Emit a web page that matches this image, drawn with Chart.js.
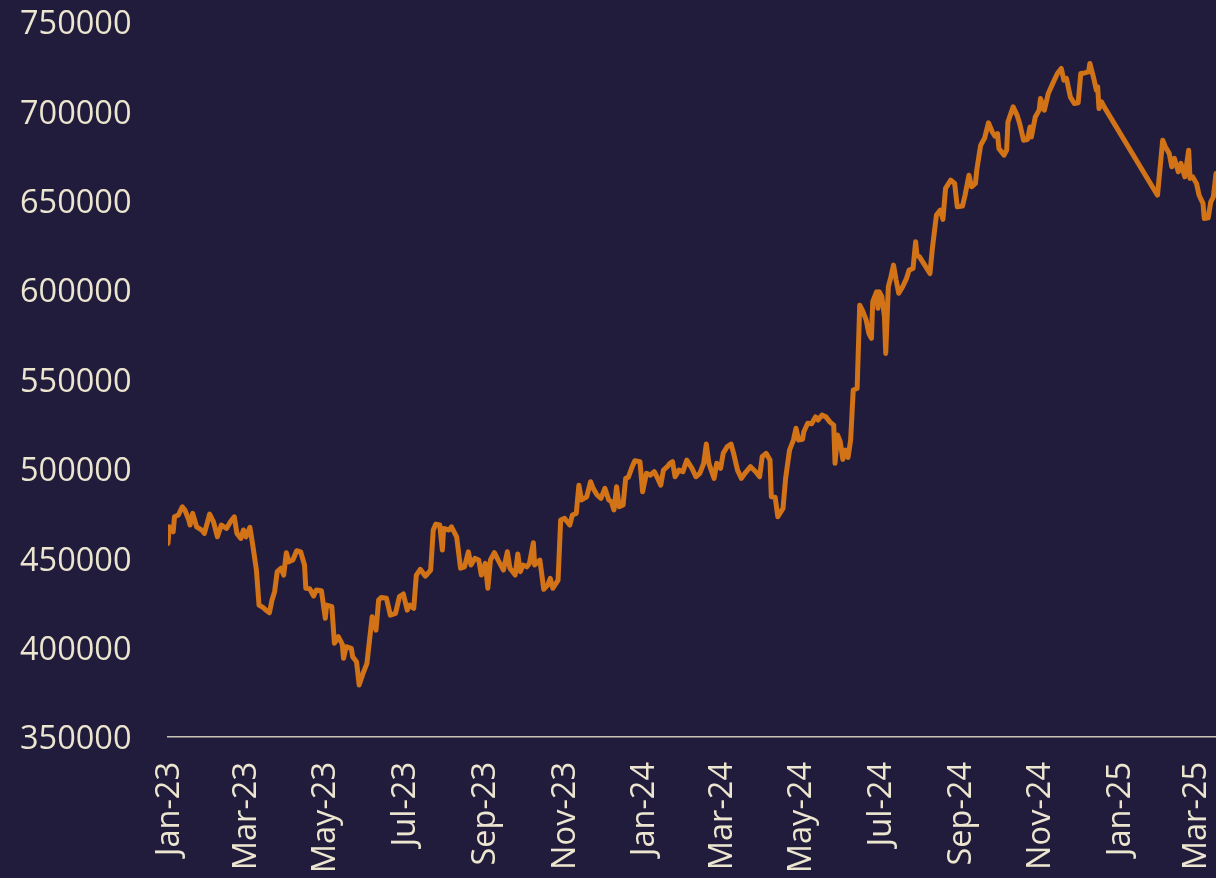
<!DOCTYPE html>
<html>
<head>
<meta charset="utf-8">
<script src="https://cdn.jsdelivr.net/npm/chart.js@4.4.1/dist/chart.umd.min.js"></script>
<style>
  html, body { margin: 0; padding: 0; background: #221c3c; }
  #wrap { width: 1216px; height: 878px; }
  canvas { display: block; }
</style>
</head>
<body>
<div id="wrap"><canvas id="c" width="1216" height="878"></canvas></div>
<script>
// x values are days counted from this start date
const startDate = '2023-01-01';

const dayOffsets = [
  0, 1, 4, 5, 8, 11, 13, 16, 17, 19, 22, 26, 28, 32, 35, 38, 41, 45, 48, 51,
  53, 56, 58, 60, 63, 65, 68, 70, 73, 76, 78, 80, 82, 84, 87, 89, 91, 93, 96, 99,
  102, 105, 106, 109, 112, 114, 118, 121, 122, 126, 128, 131, 134, 135, 137, 141, 142, 145, 147, 150,
  153, 155, 157, 158, 160, 162, 164, 168, 171, 175, 178, 181, 184, 186, 189, 191, 194, 198, 202, 204,
  206, 209, 211, 212, 216, 218, 222, 225, 228, 231, 233, 236, 239, 241, 244, 246, 248, 251, 254, 258,
  261, 263, 267, 269, 271, 273, 276, 278, 281, 282, 286, 289, 292, 294, 296, 300, 302, 305, 309, 311,
  314, 316, 318, 322, 325, 327, 330, 333, 336, 339, 341, 343, 345, 347, 350, 352, 354, 357, 359, 363,
  365, 368, 371, 374, 376, 379, 381, 384, 386, 388, 390, 393, 396, 399, 403, 406, 409, 412, 414, 416,
  420, 422, 425, 427, 430, 433, 435, 438, 441, 444, 448, 452, 455, 457, 460, 463, 464, 467, 469, 473,
  475, 478, 481, 483, 485, 488, 489, 492, 495, 498, 500, 503, 506, 509, 512, 513, 515, 517, 519, 521,
  523, 525, 527, 530, 532, 534, 537, 539, 541, 542, 545, 546, 547, 549, 551, 552, 554, 556, 558, 560,
  562, 565, 568, 570, 573, 575, 576, 578, 582, 586, 588, 591, 594, 596, 598, 602, 605, 607, 611, 613,
  616, 618, 621, 622, 625, 628, 631, 634, 636, 638, 639, 643, 645, 646, 650, 653, 655, 658, 661, 663,
  664, 667, 670, 671, 674, 677, 681, 684, 687, 689, 691, 694, 697, 700, 702, 705, 708, 709, 712, 714,
  715, 716, 718, 720, 761, 765, 767, 770, 772, 774, 777, 779, 782, 785, 786, 788, 791, 793, 796, 797,
  800, 802, 804, 806
];

const values = [
  458300, 467600, 464800, 473200, 474200, 478800, 477000, 471400, 468600, 475100, 467600, 465800, 463900, 474700, 470400, 462000, 468600, 466700, 470400, 473200,
  463900, 461100, 465800, 462000, 467300, 458300, 443400, 423800, 422500, 420600, 419500, 426600, 431300, 442500, 444400, 440600, 453100, 448000, 449000, 454200,
  453600, 446200, 433200, 432900, 428900, 432200, 431800, 416400, 423800, 422900, 402400, 406100, 402000, 394000, 400500, 399600, 394900, 392100, 379100, 385600,
  391200, 404300, 417300, 415400, 409800, 426600, 428100, 427600, 418200, 419200, 428500, 430000, 421000, 423800, 422000, 440600, 443800, 440000, 443400, 465800,
  469100, 468600, 454600, 466700, 465800, 467600, 462000, 444400, 445200, 453600, 446200, 449900, 449000, 440600, 447200, 433200, 449000, 453100, 448800, 443400,
  453600, 444400, 440600, 452400, 442500, 446200, 445200, 447200, 458700, 446200, 449000, 432600, 435000, 438800, 433200, 437800, 471400, 472300, 468600, 474200,
  475100, 490900, 482600, 484400, 492800, 489100, 485400, 483500, 489100, 482600, 481600, 477000, 490000, 478800, 479800, 494700, 495300, 501200, 504500, 504000,
  487200, 497500, 496500, 498400, 495600, 490900, 499300, 501200, 503100, 504000, 495600, 499300, 498400, 504900, 500300, 495600, 497500, 503100, 513900, 503100,
  494700, 503100, 500300, 508700, 512400, 513900, 508700, 499300, 494700, 497800, 501200, 498400, 495600, 506800, 508700, 504900, 484400, 484100, 473200, 477900,
  494700, 510500, 516100, 522700, 516100, 516500, 520800, 525500, 525200, 529100, 527300, 530100, 529100, 526300, 524500, 503100, 518900, 515200, 505300, 510500,
  506400, 516100, 544100, 545000, 591600, 588800, 583200, 575800, 573000, 593500, 599100, 589800, 599100, 596300, 585100, 564600, 601900, 607400, 614000, 605600,
  598200, 601900, 606600, 611200, 612100, 627000, 619600, 618600, 614000, 609300, 624200, 642000, 644800, 639600, 656900, 661500, 659700, 646600, 647000, 653100,
  664300, 657800, 659700, 667100, 681100, 684900, 693600, 688500, 686100, 687600, 679300, 675500, 678300, 694100, 702500, 697900, 693200, 683900, 684200, 691300,
  685700, 696900, 700700, 707200, 700700, 710000, 716500, 721200, 724000, 717500, 718400, 708100, 704400, 704800, 721200, 721500, 722100, 726800, 718400, 711900,
  713700, 701600, 705300, 702500, 653100, 683900, 680200, 676500, 669000, 673700, 666200, 670900, 663400, 678300, 662500, 663400, 659700, 653100, 648500, 640100,
  640500, 649400, 652200, 665300
];

// tick positions (days from start) and their labels
const tickDays = [0, 59, 120, 181, 243, 304, 365, 425, 486, 547, 609, 670, 731, 790];
const tickLabels = ['Jan-23', 'Mar-23', 'May-23', 'Jul-23', 'Sep-23', 'Nov-23', 'Jan-24', 'Mar-24', 'May-24', 'Jul-24', 'Sep-24', 'Nov-24', 'Jan-25', 'Mar-25'];

const yMin = 350000;
const yMax = 750000;
const yStep = 50000;

const textColor = '#ece6d0';
const lineColor = '#d17316';
const tickFont = { family: "'Open Sans', 'Noto Sans', sans-serif", size: 32.5 };

new Chart(document.getElementById('c').getContext('2d'), {
  type: 'line',
  data: {
    datasets: [{
      data: dayOffsets.map((d, i) => ({ x: d, y: values[i] })),
      borderColor: lineColor,
      borderWidth: 5,
      pointRadius: 0,
      tension: 0,
      fill: false,
      borderJoinStyle: 'round',
      borderCapStyle: 'round'
    }]
  },
  options: {
    responsive: false,
    animation: false,
    devicePixelRatio: 1,
    layout: { padding: { left: 20, top: 22, right: 0, bottom: 0 } },
    plugins: { legend: { display: false }, tooltip: { enabled: false } },
    scales: {
      x: {
        type: 'linear',
        min: dayOffsets[0],
        max: dayOffsets[dayOffsets.length - 1],
        grid: { display: false, drawTicks: false },
        border: { display: true, color: '#c9c4b6', width: 1.5 },
        afterBuildTicks: (s) => { s.ticks = tickDays.map(v => ({ value: v })); },
        afterFit: (s) => { s.height = 141; s.paddingLeft = 0; s.paddingRight = 0; },
        ticks: {
          autoSkip: false,
          minRotation: 90,
          maxRotation: 90,
          padding: 25,
          labelOffset: 2,
          color: textColor,
          font: tickFont,
          callback: (v) => { const i = tickDays.indexOf(v); return i >= 0 ? tickLabels[i] : ''; }
        }
      },
      y: {
        min: yMin,
        max: yMax,
        grid: { display: false, drawTicks: false },
        border: { display: false },
        afterFit: (s) => { s.width = 148; },
        ticks: {
          stepSize: yStep,
          crossAlign: 'far',
          padding: 0,
          labelOffset: 3,
          color: textColor,
          font: tickFont,
          callback: (v) => String(v)
        }
      }
    }
  }
});
</script>
</body>
</html>
